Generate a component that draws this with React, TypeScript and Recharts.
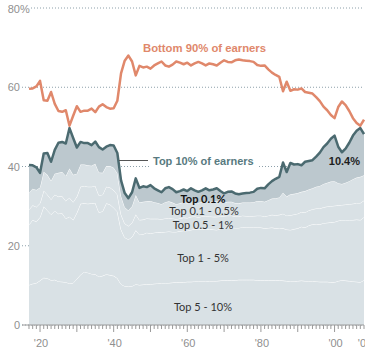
import React from "react";
import { ComposedChart, Area, Line, XAxis, YAxis, CartesianGrid } from "recharts";

// US pre-tax income shares, 1917-2008 (percent of total income)
const years = [
  1917, 1918, 1919, 1920, 1921, 1922, 1923, 1924, 1925, 1926,
  1927, 1928, 1929, 1930, 1931, 1932, 1933, 1934, 1935, 1936,
  1937, 1938, 1939, 1940, 1941, 1942, 1943, 1944, 1945, 1946,
  1947, 1948, 1949, 1950, 1951, 1952, 1953, 1954, 1955, 1956,
  1957, 1958, 1959, 1960, 1961, 1962, 1963, 1964, 1965, 1966,
  1967, 1968, 1969, 1970, 1971, 1972, 1973, 1974, 1975, 1976,
  1977, 1978, 1979, 1980, 1981, 1982, 1983, 1984, 1985, 1986,
  1987, 1988, 1989, 1990, 1991, 1992, 1993, 1994, 1995, 1996,
  1997, 1998, 1999, 2000, 2001, 2002, 2003, 2004, 2005, 2006,
  2007, 2008,
];

const top5to10 = [
  10.1, 10.4, 10.6, 11.2, 11.9, 11.8, 11.3, 11.4, 11.0, 10.9,
  10.8, 10.5, 10.6, 11.6, 12.7, 13.4, 13.2, 12.9, 12.8, 12.2,
  12.4, 12.8, 12.6, 12.4, 11.8, 10.3, 9.8, 9.7, 9.8, 10.3,
  10.1, 10.2, 10.3, 10.3, 10.4, 10.5, 10.6, 10.6, 10.6, 10.7,
  10.8, 10.8, 10.8, 10.9, 10.9, 11.0, 11.0, 11.0, 11.0, 11.1,
  11.1, 11.1, 11.2, 11.3, 11.3, 11.3, 11.3, 11.4, 11.4, 11.4,
  11.4, 11.4, 11.3, 11.3, 11.3, 11.3, 11.3, 11.3, 11.3, 11.2,
  11.1, 11.0, 11.0, 11.1, 11.2, 11.1, 11.1, 11.1, 11.0, 10.9,
  10.9, 10.9, 10.8, 10.8, 11.1, 11.3, 11.2, 11.1, 11.0, 10.9,
  10.8, 11.3,
];

const top1to5 = [
  15.2, 16.1, 15.5, 16.0, 18.0, 17.1, 16.6, 17.4, 17.1, 17.3,
  16.1, 16.8, 15.9, 16.7, 17.9, 17.3, 17.4, 17.8, 18.0, 16.2,
  16.3, 17.9, 17.8, 17.2, 16.8, 13.8, 12.3, 11.9, 12.4, 13.6,
  12.7, 12.7, 13.0, 12.8, 12.9, 12.9, 12.8, 12.9, 13.0, 12.8,
  12.7, 12.9, 13.0, 12.9, 13.1, 13.2, 13.1, 13.2, 13.1, 13.1,
  13.0, 12.9, 13.1, 13.2, 13.3, 13.3, 13.2, 13.1, 13.3, 13.2,
  13.2, 13.2, 13.3, 13.3, 13.1, 13.2, 13.3, 13.1, 13.2, 13.2,
  13.0, 13.0, 13.2, 13.3, 13.6, 13.5, 14.0, 14.3, 14.5, 14.5,
  14.8, 14.9, 15.1, 15.2, 15.2, 15.2, 15.3, 15.4, 15.5, 15.7,
  15.7, 15.9,
];

const top05to1 = [
  3.8, 3.7, 3.7, 3.5, 4.0, 4.0, 3.8, 4.1, 4.3, 4.3,
  4.4, 4.8, 4.5, 4.1, 4.3, 4.4, 4.3, 4.2, 4.3, 4.3,
  4.2, 4.2, 4.3, 4.4, 4.3, 3.8, 3.5, 3.4, 3.6, 4.0,
  3.7, 3.7, 3.6, 3.7, 3.5, 3.4, 3.3, 3.4, 3.4, 3.4,
  3.2, 3.2, 3.3, 3.2, 3.3, 3.2, 3.1, 3.2, 3.3, 3.2,
  3.2, 3.3, 3.1, 3.0, 3.0, 3.0, 2.9, 2.9, 2.9, 2.9,
  2.9, 2.9, 3.0, 3.0, 3.0, 3.1, 3.2, 3.3, 3.3, 3.7,
  3.5, 3.7, 3.7, 3.7, 3.7, 3.8, 3.8, 3.8, 3.9, 4.0,
  4.0, 4.1, 4.1, 4.1, 3.9, 3.8, 3.9, 4.0, 4.1, 4.2,
  4.3, 4.2,
];

const top01to05 = [
  4.3, 4.2, 4.3, 4.0, 4.8, 5.0, 4.7, 5.3, 6.0, 6.1,
  6.3, 7.4, 6.9, 5.8, 5.6, 5.4, 5.4, 5.3, 5.6, 5.8,
  5.5, 5.2, 5.4, 5.7, 5.4, 4.6, 4.1, 3.9, 4.2, 4.9,
  4.4, 4.5, 4.3, 4.5, 4.2, 4.0, 3.8, 4.1, 4.2, 4.0,
  3.8, 3.8, 3.9, 3.8, 3.9, 3.7, 3.6, 3.7, 3.9, 3.7,
  3.8, 3.9, 3.6, 3.4, 3.5, 3.5, 3.4, 3.3, 3.3, 3.4,
  3.4, 3.5, 3.7, 3.7, 3.7, 3.9, 4.1, 4.3, 4.4, 5.3,
  4.8, 5.3, 5.2, 5.2, 5.1, 5.4, 5.3, 5.3, 5.5, 5.7,
  5.9, 6.0, 6.2, 6.2, 5.6, 5.3, 5.5, 5.8, 6.2, 6.4,
  6.6, 6.4,
];

const top01 = [
  7.0, 5.9, 5.7, 3.7, 4.6, 5.5, 4.8, 6.0, 7.6, 7.6,
  8.2, 10.2, 9.3, 6.6, 5.7, 5.4, 5.6, 5.2, 5.6, 6.4,
  5.9, 4.9, 5.3, 5.6, 5.1, 4.0, 3.6, 3.1, 3.5, 4.2,
  3.7, 3.9, 3.6, 4.0, 3.5, 3.2, 3.0, 3.5, 3.6, 3.4,
  3.0, 3.1, 3.2, 3.0, 3.3, 2.9, 2.8, 2.9, 3.2, 2.9,
  3.1, 3.3, 2.8, 2.3, 2.5, 2.6, 2.4, 2.3, 2.3, 2.4,
  2.5, 2.6, 3.1, 3.3, 3.4, 4.0, 4.4, 4.9, 5.2, 7.6,
  6.2, 7.9, 7.4, 7.3, 6.7, 7.4, 7.2, 7.1, 7.6, 8.4,
  9.3, 9.9, 10.8, 11.5, 9.2, 8.0, 8.6, 9.7, 11.0, 11.8,
  12.3, 10.4,
];

const bottom90 = [
  59.6, 59.7, 60.2, 61.6, 56.7, 56.6, 58.8, 55.8, 54.0, 53.8,
  54.2, 50.3, 52.8, 55.2, 53.8, 54.1, 54.1, 54.6, 53.7, 55.1,
  55.7, 55.0, 54.6, 54.7, 56.6, 63.5, 66.7, 68.0, 66.5, 63.0,
  65.4, 65.0, 65.2, 64.7, 65.5, 66.0, 66.5, 65.5, 65.2, 65.7,
  66.5, 66.2, 65.8, 66.2, 65.5, 66.0, 66.4, 66.0, 65.5, 66.0,
  65.8, 65.5, 66.2, 66.8, 66.4, 66.3, 66.8, 67.0, 66.8, 66.7,
  66.6, 66.4, 65.6, 65.4, 65.5, 64.5, 63.7, 63.1, 62.6, 59.0,
  61.4, 59.1, 59.5, 59.4, 59.7, 58.8, 58.6, 58.4, 57.5, 56.5,
  55.1, 54.2, 53.0, 52.2, 55.0, 56.4, 55.5, 54.0, 52.2, 51.0,
  50.3, 51.8,
];

const yTicks = [0, 20, 40, 60, 80];
const labelYears = [1920, 1940, 1960, 1980, 2000, 2008];

const data = years.map((year, i) => ({
  year,
  p90: top5to10[i],
  p95: top1to5[i],
  p99: top05to1[i],
  p995: top01to05[i],
  p999: top01[i],
  bottom: bottom90[i],
}));

const tickFont = "'Liberation Sans', Arial, sans-serif";
const labelFont = "Lato, 'Liberation Sans', sans-serif";
const LIGHT = "#d9e1e5";

function YearTick(props: any) {
  const { x, y, payload } = props;
  const yr = payload.value as number;
  const major = yr % 10 === 0;
  const showLabel = labelYears.includes(yr);
  return (
    <g>
      <line x1={x} x2={x} y1={y} y2={y + (major ? 7 : 4)} stroke="#9a9a9a" strokeWidth={1} />
      {showLabel && (
        <text x={x + 1} y={y + 22} textAnchor="middle" fontSize={11} fill="#8f8f8f" fontFamily={tickFont}>
          {"'" + String(yr).slice(2)}
        </text>
      )}
    </g>
  );
}

function PctTick(props: any) {
  const { y, payload } = props;
  const v = payload.value as number;
  return (
    <g>
      {v === 80 && <rect x={20} y={y - 6} width={11} height={12} fill="#fff" />}
      <text x={20} y={y + 4} textAnchor="end" fontSize={11} fill="#8f8f8f" fontFamily={tickFont}>
        {v}
      </text>
      {v === 80 && (
        <text x={20} y={y + 4} textAnchor="start" fontSize={11} fill="#8f8f8f" fontFamily={tickFont}>
          %
        </text>
      )}
    </g>
  );
}

export default function App() {
  return (
    <div style={{ position: "absolute", left: 0, top: 0, width: 365, height: 351, overflow: "hidden", background: "#fff" }}>
      <ComposedChart width={380} height={351} data={data} margin={{ top: 8, right: 16, bottom: 0, left: 0 }}>
        <CartesianGrid vertical={false} stroke="#8da0aa" strokeDasharray="1 2" />
        <Area type="linear" dataKey="p90" stackId="s" fill={LIGHT} fillOpacity={1} stroke="#fff" strokeWidth={1} isAnimationActive={false} dot={false} activeDot={false} />
        <Area type="linear" dataKey="p95" stackId="s" fill={LIGHT} fillOpacity={1} stroke="#fff" strokeWidth={1} isAnimationActive={false} dot={false} activeDot={false} />
        <Area type="linear" dataKey="p99" stackId="s" fill={LIGHT} fillOpacity={1} stroke="#fff" strokeWidth={1} isAnimationActive={false} dot={false} activeDot={false} />
        <Area type="linear" dataKey="p995" stackId="s" fill={LIGHT} fillOpacity={1} stroke="#fff" strokeWidth={1} isAnimationActive={false} dot={false} activeDot={false} />
        <Area type="linear" dataKey="p999" stackId="s" fill="#bcc8ce" fillOpacity={1} stroke="#4b6a70" strokeWidth={2.5} strokeLinejoin="round" isAnimationActive={false} dot={false} activeDot={false} />
        <Line type="linear" dataKey="bottom" stroke="#e0886b" strokeWidth={2.5} strokeLinejoin="round" dot={false} activeDot={false} isAnimationActive={false} />
        <XAxis
          dataKey="year"
          type="number"
          domain={[1915.1, 2008]}
          ticks={years}
          interval={0}
          height={26}
          tickSize={0}
          tickMargin={0}
          stroke="#9a9a9a"
          tick={<YearTick />}
        />
        <YAxis
          type="number"
          domain={[0, 80]}
          ticks={yTicks}
          width={22}
          axisLine={false}
          tickLine={false}
          tick={<PctTick />}
        />
      </ComposedChart>
      <svg width={365} height={351} style={{ position: "absolute", left: 0, top: 0, pointerEvents: "none" }}>
        <text x={143} y={52} fontSize={11.3} fontWeight="bold" fill="#e0886b" fontFamily={tickFont}>
          Bottom 90% of earners
        </text>
        <line x1={119} x2={148} y1={160.5} y2={160.5} stroke="#555" strokeWidth={1} />
        <rect x={150} y={152} width={108} height={15} fill="#fff" />
        <text x={153} y={165} fontSize={11} fontWeight="bold" fill="#587a80" fontFamily={tickFont}>
          Top 10% of earners
        </text>
        <text x={360} y={165} textAnchor="end" fontSize={11} fontWeight="bold" fill="#1e1e1e" fontFamily={tickFont}>
          10.4%
        </text>
        <text x={203} y={203} textAnchor="middle" fontSize={11} fontWeight="bold" fill="#111" fontFamily={labelFont}>
          Top 0.1%
        </text>
        <text x={204} y={215} textAnchor="middle" fontSize={11} fill="#333" fontFamily={labelFont}>
          Top 0.1 - 0.5%
        </text>
        <text x={203} y={229} textAnchor="middle" fontSize={11} fill="#333" fontFamily={labelFont}>
          Top 0.5 - 1%
        </text>
        <text x={203} y={262} textAnchor="middle" fontSize={11} fill="#333" fontFamily={labelFont}>
          Top 1 - 5%
        </text>
        <text x={203} y={311} textAnchor="middle" fontSize={11} fill="#333" fontFamily={labelFont}>
          Top 5 - 10%
        </text>
      </svg>
    </div>
  );
}
